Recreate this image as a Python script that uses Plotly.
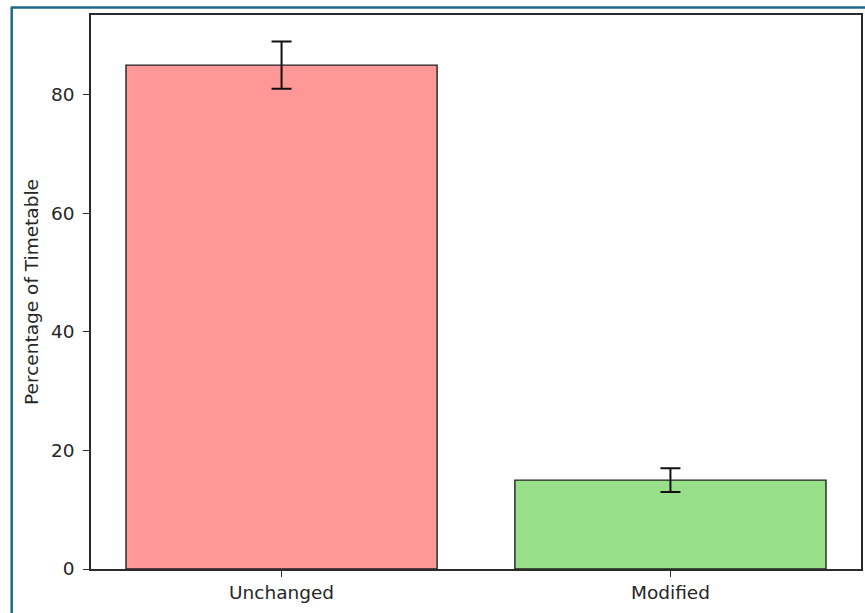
import plotly.graph_objects as go

categories = ["Unchanged", "Modified"]
percentages = [85, 15]
errors = [4, 2]
bar_colors = ["#ff9896", "#98df8a"]
y_ticks = [0, 20, 40, 60, 80]

W, H = 865, 613
L, R, T, B = 91, 863, 15, 569

fig = go.Figure(
    go.Bar(
        x=categories,
        y=percentages,
        width=0.8,
        marker=dict(color=bar_colors, line=dict(color="#222222", width=1.4)),
        error_y=dict(type="data", array=errors, visible=True, color="#111111",
                     thickness=2, width=10),
    )
)

def px_x(p):
    return (p - L) / (R - L)

def px_y(p):
    return (B - p) / (B - T)

border_color = "#1c6a8a"
fig.add_shape(type="line", xref="paper", yref="paper",
              x0=px_x(11.5), x1=px_x(11.5), y0=px_y(7.5), y1=px_y(620),
              line=dict(color=border_color, width=2.5))
fig.add_shape(type="line", xref="paper", yref="paper",
              x0=px_x(10.5), x1=px_x(870), y0=px_y(7.5), y1=px_y(7.5),
              line=dict(color=border_color, width=2.5))

font = dict(family="DejaVu Sans", size=18.5, color="#262626")

fig.update_layout(
    width=W, height=H,
    margin=dict(l=L, r=W - R, t=T, b=H - B, pad=0),
    paper_bgcolor="white",
    plot_bgcolor="white",
    showlegend=False,
    font=font,
    xaxis=dict(
        type="category",
        range=[-0.49, 1.49],
        showline=True, mirror=True, linecolor="#2a2a2a", linewidth=1.5,
        ticks="outside", ticklen=6, tickcolor="#2a2a2a", tickwidth=1.4,
        showgrid=False, zeroline=False,
        tickfont=font,
    ),
    yaxis=dict(
        range=[0, 93.45],
        tickvals=y_ticks,
        showline=True, mirror=True, linecolor="#2a2a2a", linewidth=1.5,
        ticks="outside", ticklen=6, tickcolor="#2a2a2a", tickwidth=1.4,
        ticklabelstandoff=5,
        showgrid=False, zeroline=False,
        tickfont=font,
        title=dict(text="Percentage of Timetable", font=font, standoff=8),
    ),
)

fig.write_html(
    "out.html",
    config={"displayModeBar": False},
    post_script="document.body.style.margin='0';document.body.style.overflow='hidden';",
)
